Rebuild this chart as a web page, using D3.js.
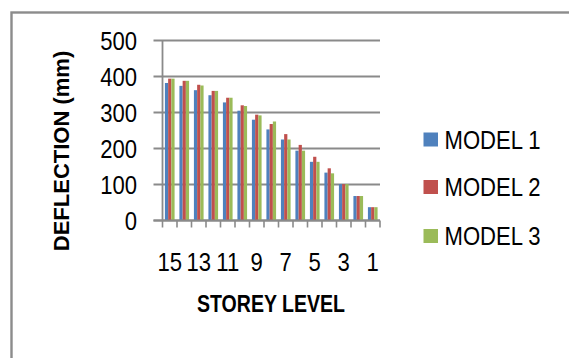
<!DOCTYPE html>
<html>
<head>
<meta charset="utf-8">
<script src="https://cdn.jsdelivr.net/npm/d3@7/dist/d3.min.js"></script>
<style>
  html, body { margin: 0; padding: 0; background: #fff; }
  svg { display: block; }
  text { font-family: "Liberation Sans", Arial, sans-serif; fill: #000; }
</style>
</head>
<body>
<svg id="chart" width="569" height="358"></svg>
<script>
// Storey levels, top storey first
const storeys = ["15", "14", "13", "12", "11", "10", "9", "8", "7", "6", "5", "4", "3", "2", "1"];
const seriesNames = ["MODEL 1", "MODEL 2", "MODEL 3"];
// Deflection (mm) per storey for each model
const model1 = [382, 374, 362, 348, 328, 305, 280, 253, 225, 194, 163, 133, 101, 68, 37];
const model2 = [394, 388, 377, 360, 341, 320, 294, 268, 240, 210, 177, 145, 101, 68, 37];
const model3 = [394, 388, 375, 360, 341, 318, 292, 275, 225, 194, 163, 131, 101, 68, 37];
const yTicks = [0, 100, 200, 300, 400, 500];
const xTickLabels = ["15", "13", "11", "9", "7", "5", "3", "1"];
const colors = ["#4F81BD", "#C0504D", "#9BBB59"];

const series = [model1, model2, model3];
const svg = d3.select("#chart");
const narrow = 0.85; // horizontal squeeze applied to all labels

// Outer chart frame (continues past the right and bottom edges)
svg.append("rect")
  .attr("x", 11.5).attr("y", 12.5)
  .attr("width", 600).attr("height", 400)
  .attr("fill", "none")
  .attr("stroke", "#8c8c8c")
  .attr("stroke-width", 2.4);

const plot = { left: 162.5, right: 380, top: 40.5, bottom: 220.5 };

const x = d3.scaleBand().domain(storeys).range([plot.left, plot.right]).paddingInner(0).paddingOuter(0);
const xInner = d3.scaleBand().domain(seriesNames).range([0, x.bandwidth()]).paddingInner(0).paddingOuter(0.75);
const y = d3.scaleLinear().domain([0, 500]).range([plot.bottom, plot.top]);

// Horizontal gridlines (extend left past the axis as tick marks)
svg.append("g")
  .selectAll("line")
  .data(yTicks)
  .join("line")
  .attr("x1", plot.left - 9).attr("x2", plot.right)
  .attr("y1", d => y(d)).attr("y2", d => y(d))
  .attr("stroke", "#8a8a8a")
  .attr("stroke-width", 1.8);

// Bars
const groups = svg.append("g")
  .selectAll("g")
  .data(storeys)
  .join("g")
  .attr("transform", d => `translate(${x(d)},0)`);

groups.selectAll("rect")
  .data((d, i) => series.map((s, k) => ({ name: seriesNames[k], value: s[i], k })))
  .join("rect")
  .attr("x", d => xInner(d.name))
  .attr("width", xInner.bandwidth())
  .attr("y", d => y(d.value))
  .attr("height", d => y(0) - y(d.value))
  .attr("fill", d => colors[d.k]);

// Vertical axis line
svg.append("line")
  .attr("x1", plot.left).attr("x2", plot.left)
  .attr("y1", plot.top).attr("y2", plot.bottom)
  .attr("stroke", "#8a8a8a").attr("stroke-width", 1.8);

// Horizontal axis line with category boundary ticks
svg.append("line")
  .attr("x1", plot.left - 9).attr("x2", plot.right)
  .attr("y1", plot.bottom).attr("y2", plot.bottom)
  .attr("stroke", "#8a8a8a").attr("stroke-width", 1.8);

const boundaries = storeys.map(s => x(s)).concat([plot.right]);
svg.append("g")
  .selectAll("line")
  .data(boundaries)
  .join("line")
  .attr("x1", d => d).attr("x2", d => d)
  .attr("y1", plot.bottom).attr("y2", plot.bottom + 7)
  .attr("stroke", "#8a8a8a").attr("stroke-width", 1.6);

// Y tick labels
svg.append("g")
  .selectAll("text")
  .data(yTicks)
  .join("text")
  .attr("transform", d => `translate(137,${y(d)}) scale(${narrow},1)`)
  .attr("dy", "0.35em")
  .attr("text-anchor", "end")
  .attr("font-size", 26)
  .text(d => d);

// X tick labels (every other storey)
svg.append("g")
  .selectAll("text")
  .data(xTickLabels)
  .join("text")
  .attr("transform", d => `translate(${x(d) + x.bandwidth() / 2},271) scale(${narrow},1)`)
  .attr("text-anchor", "middle")
  .attr("font-size", 26)
  .text(d => d);

// Axis titles
svg.append("text")
  .attr("transform", "translate(61,151) rotate(-90)")
  .attr("dy", "0.35em")
  .attr("text-anchor", "middle")
  .attr("font-size", 22)
  .attr("font-weight", "bold")
  .text("DEFLECTION (mm)");

svg.append("text")
  .attr("transform", `translate(271,312) scale(${narrow},1)`)
  .attr("text-anchor", "middle")
  .attr("font-size", 23)
  .attr("font-weight", "bold")
  .text("STOREY LEVEL");

// Legend
const legendY = [139.5, 187, 236];
const legend = svg.append("g")
  .selectAll("g")
  .data(seriesNames)
  .join("g")
  .attr("transform", (d, i) => `translate(423.5,${legendY[i]})`);

legend.append("rect")
  .attr("x", 0).attr("y", -7)
  .attr("width", 14.5).attr("height", 14)
  .attr("fill", (d, i) => colors[i]);

legend.append("text")
  .attr("transform", `translate(21,0) scale(${narrow},1)`)
  .attr("dy", "0.35em")
  .attr("font-size", 26)
  .text(d => d);
</script>
</body>
</html>
